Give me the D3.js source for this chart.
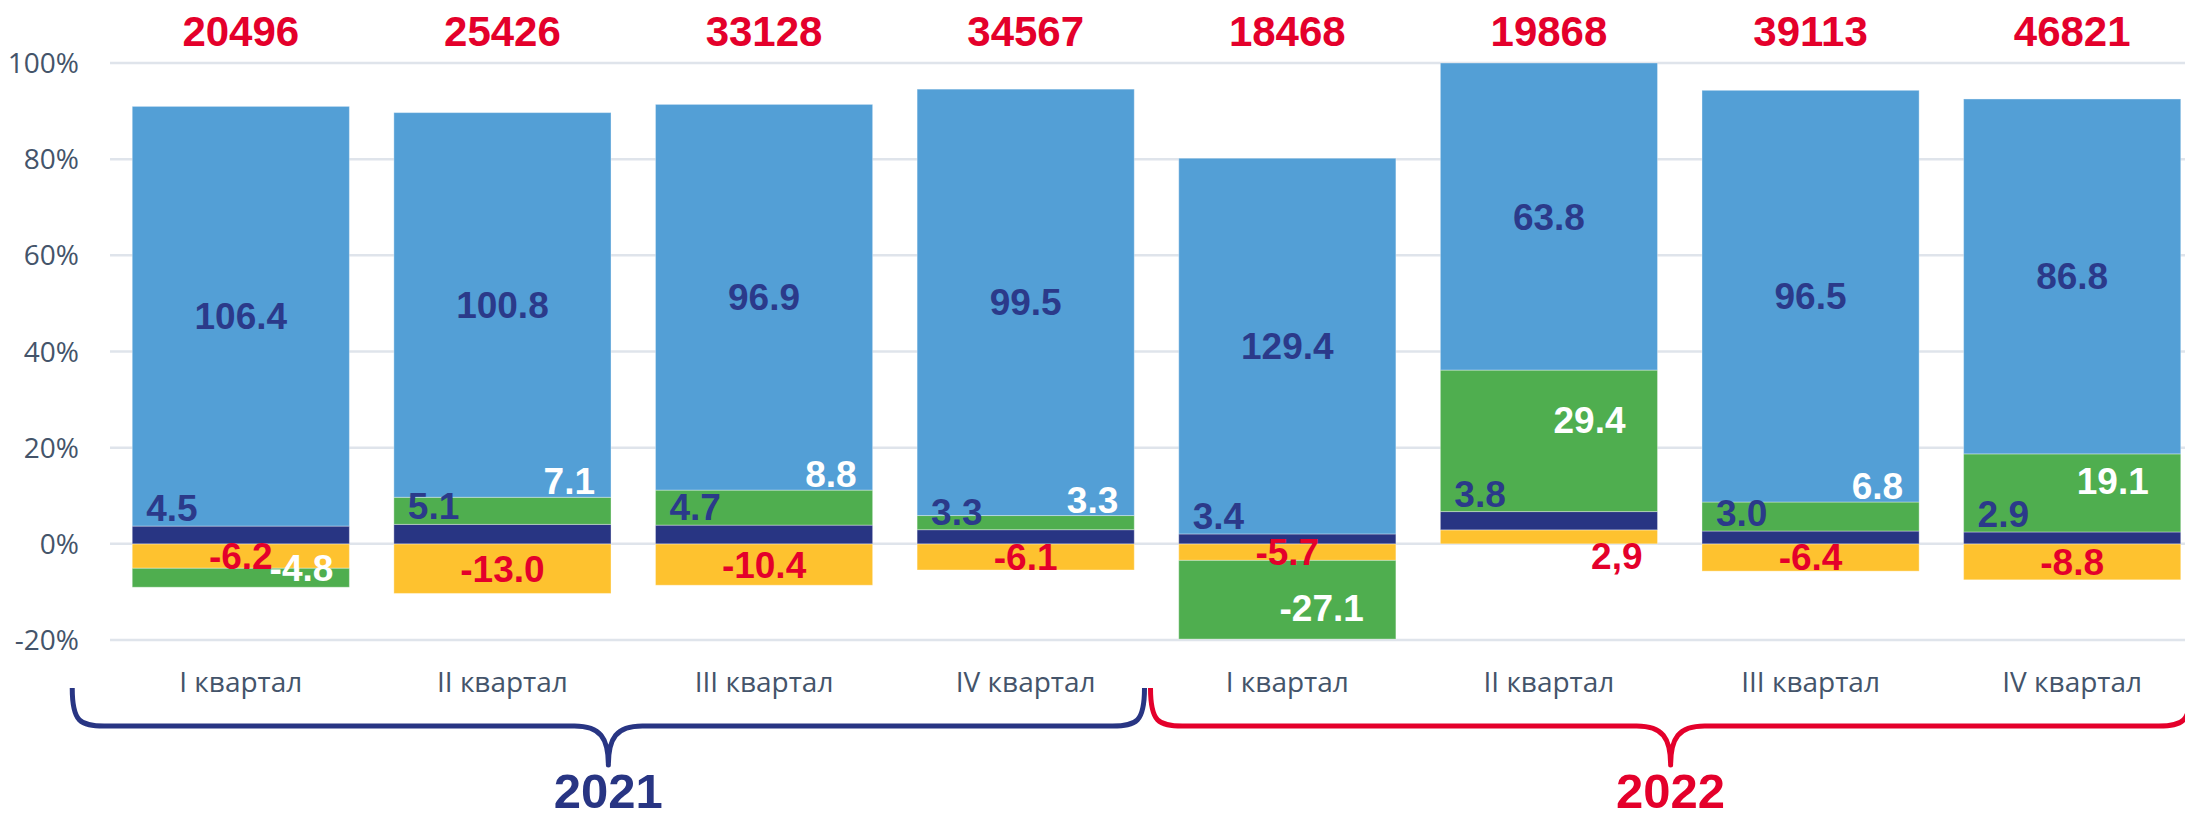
<!DOCTYPE html>
<html>
<head>
<meta charset="utf-8">
<script src="https://cdn.jsdelivr.net/npm/d3@7/dist/d3.min.js"></script>
<style>
    html, body { margin: 0; padding: 0; background: #fff; }
    svg { display: block; }
</style>
</head>
<body>
<div id="chart"></div>
<script>
var quarters = ['I квартал', 'II квартал', 'III квартал', 'IV квартал',
                'I квартал', 'II квартал', 'III квартал', 'IV квартал'];
var years = ['2021', '2022'];
var yearOfBar = [0, 0, 0, 0, 1, 1, 1, 1];
var totals = [20496, 25426, 33128, 34567, 18468, 19868, 39113, 46821];

// components, in % points
var blueValues   = [106.4, 100.8, 96.9, 99.5, 129.4, 63.8, 96.5, 86.8];
var navyValues   = [4.5, 5.1, 4.7, 3.3, 3.4, 3.8, 3.0, 2.9];
var greenValues  = [-4.8, 7.1, 8.8, 3.3, -27.1, 29.4, 6.8, 19.1];
var yellowValues = [-6.2, -13.0, -10.4, -6.1, -5.7, 2.9, -6.4, -8.8];

var yTicks = [-20, 0, 20, 40, 60, 80, 100];

;(function () {

    var width = 2185
        , height = 817
        , svg
        , x
        , y
        , bw;

    var colors = {
        blue: '#539fd6',
        navy: '#283583',
        green: '#4fae4f',
        yellow: '#fec22f'
    };
    var red = '#e4002b'
        , labelNavy = '#2b3a8a'
        , axisGrey = '#44546a'
        , gridGrey = '#dfe4eb';

    var keys = ['yellow', 'navy', 'green', 'blue'];

    function fmt(v) {
        return v.toFixed(1);
    }

    // excel style "100% stacked" with negatives: share of the sum of absolute values
    function buildRows() {
        var rows = [];
        for (var i = 0; i < quarters.length; i++) {
            var raw = {
                yellow: yellowValues[i],
                navy: navyValues[i],
                green: greenValues[i],
                blue: blueValues[i]
            };
            var abs = d3.sum(keys, function (k) { return Math.abs(raw[k]); });
            var row = { i: i, raw: raw };
            keys.forEach(function (k) { row[k] = raw[k] / abs * 100; });
            rows.push(row);
        }
        return rows;
    }

    function drawGrid() {
        svg.append('g').selectAll('line')
            .data(yTicks)
            .enter().append('line')
            .attr('x1', 110)
            .attr('x2', width)
            .attr('y1', function (d) { return y(d); })
            .attr('y2', function (d) { return y(d); })
            .attr('stroke', gridGrey)
            .attr('stroke-width', 2.5);

        svg.append('g').selectAll('text')
            .data(yTicks)
            .enter().append('text')
            .attr('x', 79)
            .attr('y', function (d) { return y(d); })
            .attr('dy', '0.36em')
            .attr('text-anchor', 'end')
            .attr('font-family', '"Open Sans", sans-serif')
            .attr('font-size', 28)
            .attr('fill', axisGrey)
            .text(function (d) { return d + '%'; });
    }

    function drawBars(series) {
        svg.append('g').selectAll('g')
            .data(series)
            .enter().append('g')
            .attr('fill', function (s) { return colors[s.key]; })
            .selectAll('rect')
            .data(function (s) { return s; })
            .enter().append('rect')
            .attr('x', function (d) { return x(d.data.i); })
            .attr('width', bw)
            .attr('y', function (d) { return y(Math.max(d[0], d[1])); })
            .attr('height', function (d) { return Math.abs(y(d[0]) - y(d[1])); })
            .attr('stroke', 'rgba(255,255,255,0.35)')
            .attr('stroke-width', 1);
    }

    function labelPos(key, d) {
        var i = d.data.i
            , v = d.data.raw[key]
            , left = x(i)
            , right = x(i) + bw
            , top = y(Math.max(d[0], d[1]))
            , bottom = y(Math.min(d[0], d[1]))
            , h = bottom - top
            , p = { anchor: 'middle', x: left + bw / 2, y: (top + bottom) / 2 + 13, fill: labelNavy };

        if (key === 'navy') {
            p.anchor = 'start';
            p.x = left + 14;
            p.y = top - 5;
        } else if (key === 'green') {
            p.fill = '#fff';
            p.anchor = 'end';
            p.x = right - (h > 50 ? 32 : 16);
            if (v >= 0) {
                p.y = h > 50 ? top + 0.35 * h + 13 : top - 3;
            } else {
                p.y = h > 50 ? top + 0.6 * h + 13 : top + 13;
            }
        } else if (key === 'yellow') {
            p.fill = red;
            if (v >= 0) {
                p.anchor = 'end';
                p.x = right - 15;
                p.y = bottom + 25;
            }
        }
        return p;
    }

    function drawLabels(series) {
        series.forEach(function (s) {
            var g = svg.append('g')
                .attr('font-family', '"Liberation Sans", Arial, sans-serif')
                .attr('font-weight', 'bold')
                .attr('font-size', 37);
            g.selectAll('text')
                .data(s)
                .enter().append('text')
                .each(function (d) {
                    var p = labelPos(s.key, d)
                        , v = d.data.raw[s.key]
                        , txt = fmt(v);
                    // the positive yellow value is printed with a comma in the original
                    if (s.key === 'yellow' && v > 0) txt = txt.replace('.', ',');
                    d3.select(this)
                        .attr('x', p.x)
                        .attr('y', p.y)
                        .attr('text-anchor', p.anchor)
                        .attr('fill', p.fill)
                        .text(txt);
                });
        });
    }

    function drawTotals() {
        svg.append('g').selectAll('text')
            .data(totals)
            .enter().append('text')
            .attr('x', function (d, i) { return x(i) + bw / 2; })
            .attr('y', 46)
            .attr('text-anchor', 'middle')
            .attr('font-family', '"Liberation Sans", Arial, sans-serif')
            .attr('font-weight', 'bold')
            .attr('font-size', 42)
            .attr('fill', red)
            .text(function (d) { return d; });
    }

    function drawCategories() {
        svg.append('g').selectAll('text')
            .data(quarters)
            .enter().append('text')
            .attr('x', function (d, i) { return x(i) + bw / 2; })
            .attr('y', 692)
            .attr('text-anchor', 'middle')
            .attr('font-family', '"Open Sans", sans-serif')
            .attr('font-size', 28)
            .attr('fill', axisGrey)
            .text(function (d) { return d; });
    }

    function bracePath(x0, x1, yTop, yMid, yTip) {
        var tip = (x0 + x1) / 2;
        return 'M' + x0 + ',' + yTop +
            'C' + x0 + ',' + (yMid - 4) + ' ' + (x0 + 8) + ',' + yMid + ' ' + (x0 + 32) + ',' + yMid +
            'L' + (tip - 34) + ',' + yMid +
            'C' + (tip - 8) + ',' + yMid + ' ' + tip + ',' + (yMid + 12) + ' ' + tip + ',' + yTip +
            'C' + tip + ',' + (yMid + 12) + ' ' + (tip + 8) + ',' + yMid + ' ' + (tip + 34) + ',' + yMid +
            'L' + (x1 - 32) + ',' + yMid +
            'C' + (x1 - 8) + ',' + yMid + ' ' + x1 + ',' + (yMid - 4) + ' ' + x1 + ',' + yTop;
    }

    function drawYears() {
        var yearColors = [colors.navy, red];
        var gapMid = (x(3) + bw + x(4)) / 2;
        var spans = [
            [x(0) - 60, gapMid - 12],
            [gapMid - 6, x(7) + bw + 10]
        ];

        years.forEach(function (yr, k) {
            var idx = yearOfBar.map(function (g, i) { return g === k ? i : -1; })
                .filter(function (i) { return i >= 0; });
            var s = spans[k];
            svg.append('path')
                .attr('d', bracePath(s[0], s[1], 688, 726, 765))
                .attr('fill', 'none')
                .attr('stroke', yearColors[k])
                .attr('stroke-width', 5)
                .attr('stroke-linejoin', 'round')
                .attr('data-bars', idx.join(','));

            svg.append('text')
                .attr('x', (s[0] + s[1]) / 2)
                .attr('y', 808)
                .attr('text-anchor', 'middle')
                .attr('font-family', '"Liberation Sans", Arial, sans-serif')
                .attr('font-weight', 'bold')
                .attr('font-size', 49)
                .attr('fill', yearColors[k])
                .text(yr);
        });
    }

    function initialize() {
        svg = d3.select('#chart').append('svg')
            .attr('width', width)
            .attr('height', height);

        x = d3.scaleBand()
            .domain(d3.range(quarters.length))
            .range([110, 2203])
            .paddingInner(0.17)
            .paddingOuter(0.085);
        bw = x.bandwidth();

        y = d3.scaleLinear()
            .domain([-20, 100])
            .range([640, 63]);

        var rows = buildRows();
        var series = d3.stack()
            .keys(keys)
            .offset(d3.stackOffsetDiverging)(rows);

        drawGrid();
        drawBars(series);
        drawLabels(series);
        drawTotals();
        drawCategories();
        drawYears();
    }

    initialize();

}());
</script>
</body>
</html>
